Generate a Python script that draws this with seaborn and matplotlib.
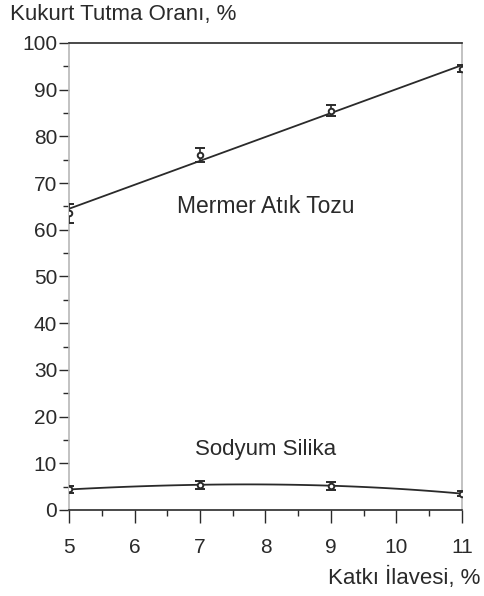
import numpy as np
import pandas as pd
import seaborn as sns
import matplotlib
matplotlib.use("Agg")
import matplotlib.pyplot as plt
from matplotlib.ticker import MultipleLocator

# Data
katki = [5, 7, 9, 11]
mermer = [63.5, 76.0, 85.5, 94.5]
mermer_err = [2.0, 1.5, 1.2, 0.8]
sodyum = [4.4, 5.4, 5.2, 3.5]
sodyum_err = [0.8, 0.9, 0.9, 0.5]
xticks = [5, 6, 7, 8, 9, 10, 11]
yticks = [0, 10, 20, 30, 40, 50, 60, 70, 80, 90, 100]

df_m = pd.DataFrame({"x": katki, "y": mermer})
df_s = pd.DataFrame({"x": katki, "y": sodyum})

sns.set_style("white")
plt.rcParams["font.family"] = ["Liberation Sans", "DejaVu Sans"]

fig = plt.figure(figsize=(4.84, 5.96), dpi=100)
ax = fig.add_axes([0.1426, 0.1443, 0.8119, 0.7836])

ink = "#2a2a2a"
sns.regplot(data=df_m, x="x", y="y", ax=ax, scatter=False, ci=None,
            line_kws=dict(color=ink, lw=1.3), truncate=True)
sns.regplot(data=df_s, x="x", y="y", ax=ax, scatter=False, ci=None, order=3,
            line_kws=dict(color=ink, lw=1.3), truncate=True)
ax.errorbar(katki, mermer, yerr=mermer_err, fmt="o", ms=4, mfc="white",
            mec=ink, ecolor=ink, capsize=3.5, elinewidth=1.2, mew=1.4, zorder=5)
ax.errorbar(katki, sodyum, yerr=sodyum_err, fmt="o", ms=4, mfc="white",
            mec=ink, ecolor=ink, capsize=3.5, elinewidth=1.2, mew=1.4, zorder=5)

ax.set_xlim(5, 11)
ax.set_ylim(0, 100)
ax.set_xticks(xticks)
ax.set_yticks(yticks)
ax.xaxis.set_minor_locator(MultipleLocator(0.5))
ax.yaxis.set_minor_locator(MultipleLocator(5))
ax.tick_params(axis="y", which="major", direction="out", length=7,
               width=1, color=ink, labelsize=15, labelcolor=ink, pad=1.5,
               left=True)
ax.tick_params(axis="y", which="minor", direction="out", length=4,
               width=1, color=ink, left=True)
ax.tick_params(axis="x", which="major", direction="out", length=9,
               width=1, color=ink, labelsize=15, labelcolor=ink, pad=11,
               bottom=True)
ax.tick_params(axis="x", which="minor", direction="out", length=4,
               width=1, color=ink, bottom=True)
ax.set_xlabel("")
ax.set_ylabel("")

for side in ["top", "bottom"]:
    ax.spines[side].set_color(ink)
    ax.spines[side].set_linewidth(1.2)
for side in ["left", "right"]:
    ax.spines[side].set_color("#b8b8b8")
    ax.spines[side].set_linewidth(1.2)

ax.text(8.0, 65.0, "Mermer Atık Tozu", ha="center", va="center",
        fontsize=16.5, color=ink)
ax.text(8.0, 13.0, "Sodyum Silika", ha="center", va="center",
        fontsize=16, color=ink)

fig.text(0.02, 0.975, "Kukurt Tutma Oranı, %", ha="left", va="center",
         fontsize=16, color=ink)
fig.text(0.992, 0.03, "Katkı İlavesi, %", ha="right", va="center",
         fontsize=16, color=ink)

fig.savefig("out.png", dpi=100, facecolor="white")
